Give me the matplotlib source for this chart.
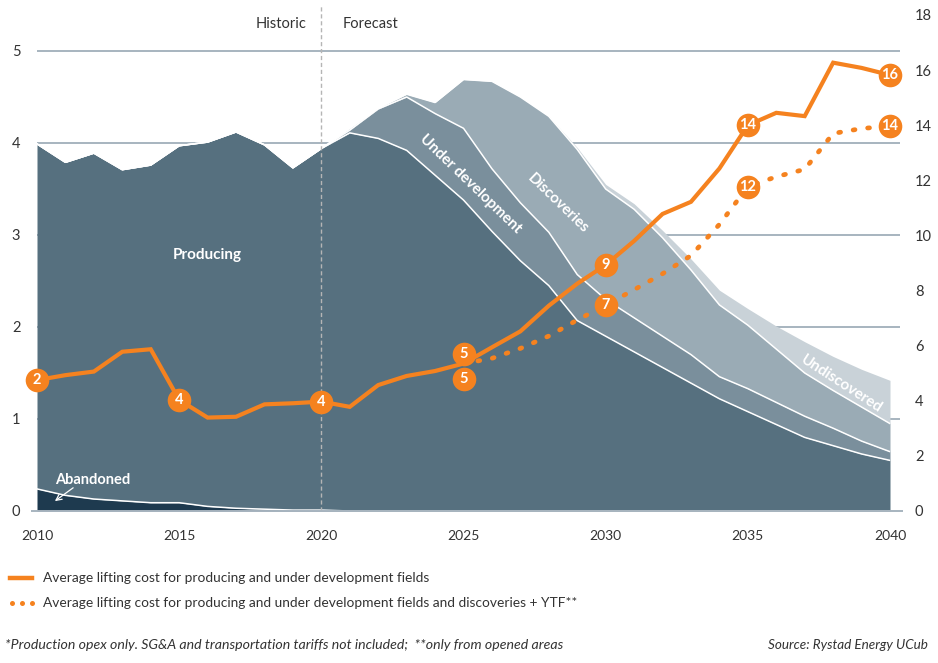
import numpy as np
import matplotlib
matplotlib.use("Agg")
import matplotlib.pyplot as plt

plt.rcParams['font.family'] = ['Lato', 'DejaVu Sans']

# ---- data -------------------------------------------------------------
years = list(range(2010, 2041))

# production by field category (stacked layers, left axis)
abandoned = [0.24, 0.17, 0.13, 0.11, 0.09, 0.09, 0.05, 0.03, 0.02, 0.01, 0.01,
             0, 0, 0, 0, 0, 0, 0, 0, 0, 0, 0, 0, 0, 0, 0, 0, 0, 0, 0, 0]
producing = [3.75, 3.62, 3.76, 3.60, 3.67, 3.88, 3.96, 4.09, 3.96, 3.72, 3.93,
             4.11, 4.05, 3.92, 3.65, 3.38, 3.04, 2.72, 2.45, 2.07, 1.90,
             1.73, 1.56, 1.39, 1.22, 1.08, 0.94, 0.80, 0.71, 0.62, 0.55]
under_development = [0, 0, 0, 0, 0, 0, 0, 0, 0, 0, 0,
                     0.03, 0.32, 0.58, 0.67, 0.78, 0.68, 0.63, 0.58, 0.50, 0.40,
                     0.37, 0.34, 0.31, 0.24, 0.25, 0.24, 0.23, 0.19, 0.14, 0.095]
discoveries = [0, 0, 0, 0, 0, 0, 0, 0, 0, 0, 0,
               0.02, 0.01, 0.03, 0.12, 0.53, 0.95, 1.15, 1.26, 1.36, 1.20,
               1.18, 1.07, 0.92, 0.78, 0.69, 0.58, 0.47, 0.41, 0.37, 0.305]
undiscovered = [0, 0, 0, 0, 0, 0, 0, 0, 0, 0, 0,
                0, 0, 0, 0, 0, 0, 0, 0, 0.02, 0.05,
                0.06, 0.08, 0.12, 0.16, 0.18, 0.25, 0.34, 0.37, 0.41, 0.47]

# average lifting cost (right axis)
cost_pud = [4.75, 4.93, 5.06, 5.78, 5.87, 4.03, 3.39, 3.42, 3.87, 3.91, 3.97,
            3.78, 4.57, 4.90, 5.08, 5.35, 5.94, 6.52, 7.45, 8.25, 8.93,
            9.80, 10.78, 11.22, 12.43, 14.00, 14.45, 14.33, 16.27, 16.08, 15.82]
years_ytf = list(range(2025, 2041))
cost_ytf = [5.35, 5.54, 5.90, 6.35, 6.93, 7.47, 8.03, 8.61, 9.27, 10.40, 11.77,
            12.13, 12.40, 13.70, 13.88, 13.97]

# bubble annotations
pud_label_years = [2010, 2015, 2020, 2025, 2030, 2035, 2040]
pud_label_text = ["2", "4", "4", "5", "9", "14", "16"]
ytf_label_years = [2025, 2030, 2035, 2040]
ytf_label_text = ["5", "7", "12", "14"]

left_ticks = [0, 1, 2, 3, 4, 5]
right_ticks = [0, 2, 4, 6, 8, 10, 12, 14, 16, 18]
x_ticks = [2010, 2015, 2020, 2025, 2030, 2035, 2040]

legend_solid = "Average lifting cost for producing and under development fields"
legend_dotted = ("Average lifting cost for producing and under development fields "
                 "and discoveries + YTF**")
footnote = ("*Production opex only. SG&A and transportation tariffs not included;  "
            "**only from opened areas")
source = "Source: Rystad Energy UCub"

# ---- style ------------------------------------------------------------
ORANGE = "#f5821f"
TEXT = "#333333"
GRID = "#a7b4bf"
layer_colors = ["#1e3a4f", "#56707f", "#7a8f9c", "#9aabb5", "#c9d2d8"]

W, H = 938, 663
fig = plt.figure(figsize=(W / 100, H / 100), dpi=100)
ax = fig.add_axes([37 / W, (H - 511) / H, (890 - 37) / W, (511 - 15) / H])
ax.set_xlim(2010, 2040)
ax.set_ylim(0, 5 * 496 / 460)

yrs = np.array(years, dtype=float)
layers = [abandoned, producing, under_development, discoveries, undiscovered]
cum = np.cumsum(np.array(layers, dtype=float), axis=0)

# gridlines behind areas
for v in left_ticks[1:]:
    ax.plot([2010, 2040.35], [v, v], color=GRID, lw=1.4, zorder=0.5,
            clip_on=False, solid_capstyle="butt")
ax.plot([2009.79, 2040.46], [0, 0], color=GRID, lw=1.4, zorder=6,
        clip_on=False, solid_capstyle="butt")

base = np.zeros_like(yrs)
for i, col in enumerate(layer_colors):
    ax.fill_between(yrs, base, cum[i], color=col, lw=0, zorder=1 + i * 0.01)
    base = cum[i]
for i in range(4):
    ax.plot(yrs, cum[i], color="white", lw=1.1, zorder=2)

# historic / forecast divider
ax.plot([2020, 2020], [0, 5.5], color="#b5b5b5", lw=1.0,
        dashes=(3, 2), zorder=3, clip_on=False)
fig.text(281 / W, 1 - 24 / H, "Historic", ha="center", va="center",
         fontsize=10.5, color=TEXT)
fig.text(370 / W, 1 - 24 / H, "Forecast", ha="center", va="center",
         fontsize=10.5, color=TEXT)

# layer labels
ax.text(2016.0, 2.78, "Producing", color="white", fontsize=11,
        fontweight="bold", ha="center", va="center", zorder=5)
ax.text(2011.95, 0.34, "Abandoned", color="white", fontsize=10.5,
        fontweight="bold", ha="center", va="center", zorder=5)
ax.annotate("", xy=(2010.55, 0.09), xytext=(2011.35, 0.27),
            arrowprops=dict(arrowstyle="->", color="white", lw=0.9), zorder=5)
ax.text(2025.25, 3.55, "Under development", color="white", fontsize=11,
        fontweight="bold", ha="center", va="center", rotation=-44,
        rotation_mode="anchor", zorder=5)
ax.text(2028.33, 3.34, "Discoveries", color="white", fontsize=11,
        fontweight="bold", ha="center", va="center", rotation=-44,
        rotation_mode="anchor", zorder=5)
ax.text(2038.28, 1.38, "Undiscovered", color="white", fontsize=11,
        fontweight="bold", ha="center", va="center", rotation=-33,
        rotation_mode="anchor", zorder=5)

# ticks
ax.set_xticks(x_ticks)
ax.set_xticklabels([str(x) for x in x_ticks])
ax.set_yticks(left_ticks)
ax.set_yticklabels([str(v) for v in left_ticks])
ax.tick_params(axis="x", length=0, pad=14, labelsize=10, labelcolor=TEXT)
ax.tick_params(axis="y", length=0, pad=12, labelsize=10.5, labelcolor=TEXT)
for s in ax.spines.values():
    s.set_visible(False)

# cost lines on right axis
ax2 = ax.twinx()
ax2.set_ylim(0, 18)
ax2.set_yticks(right_ticks)
ax2.set_yticklabels([str(v) for v in right_ticks])
ax2.tick_params(axis="y", length=0, pad=18, labelsize=10.5, labelcolor=TEXT)
for s in ax2.spines.values():
    s.set_visible(False)

ax2.plot(years, cost_pud, color=ORANGE, lw=3.0, zorder=3,
         solid_joinstyle="miter", solid_capstyle="butt")
ax2.plot(years_ytf, cost_ytf, color=ORANGE, lw=3.4, zorder=3,
         dashes=(0.4, 2.7), dash_capstyle="round")

px = 18 / 496  # right-axis units per pixel
pud_map = dict(zip(years, cost_pud))
ytf_map = dict(zip(years_ytf, cost_ytf))
for yr, txt in zip(pud_label_years, pud_label_text):
    y = pud_map[yr] + (10 * px if yr == 2025 else 0)
    ax2.plot([yr], [y], "o", ms=17, color=ORANGE, mec="none", zorder=4,
             clip_on=False)
    ax2.text(yr, y, txt, color="white", fontsize=10.5, fontweight="bold",
             ha="center", va="center", zorder=5)
for yr, txt in zip(ytf_label_years, ytf_label_text):
    y = ytf_map[yr] - (15 * px if yr == 2025 else 0)
    ax2.plot([yr], [y], "o", ms=17, color=ORANGE, mec="none", zorder=4,
             clip_on=False)
    ax2.text(yr, y, txt, color="white", fontsize=10.5, fontweight="bold",
             ha="center", va="center", zorder=5)

# legend
fig.lines.append(plt.Line2D([10 / W, 32 / W], [1 - 578 / H] * 2,
                            transform=fig.transFigure, color=ORANGE, lw=3.2))
for xd in (12, 22, 32):
    fig.lines.append(plt.Line2D([xd / W], [1 - 603 / H], marker="o", ms=3.6,
                                color=ORANGE, mec="none",
                                transform=fig.transFigure))
fig.text(43 / W, 1 - 578 / H, legend_solid, fontsize=9.9, color=TEXT,
         va="center", ha="left")
fig.text(43 / W, 1 - 603 / H, legend_dotted, fontsize=9.9, color=TEXT,
         va="center", ha="left")

fig.text(5 / W, 1 - 645 / H, footnote, fontsize=10.2, style="italic",
         color=TEXT, va="center", ha="left")
fig.text(928 / W, 1 - 645 / H, source, fontsize=9.7, style="italic",
         color=TEXT, va="center", ha="right")

fig.savefig("out.png", dpi=100)
